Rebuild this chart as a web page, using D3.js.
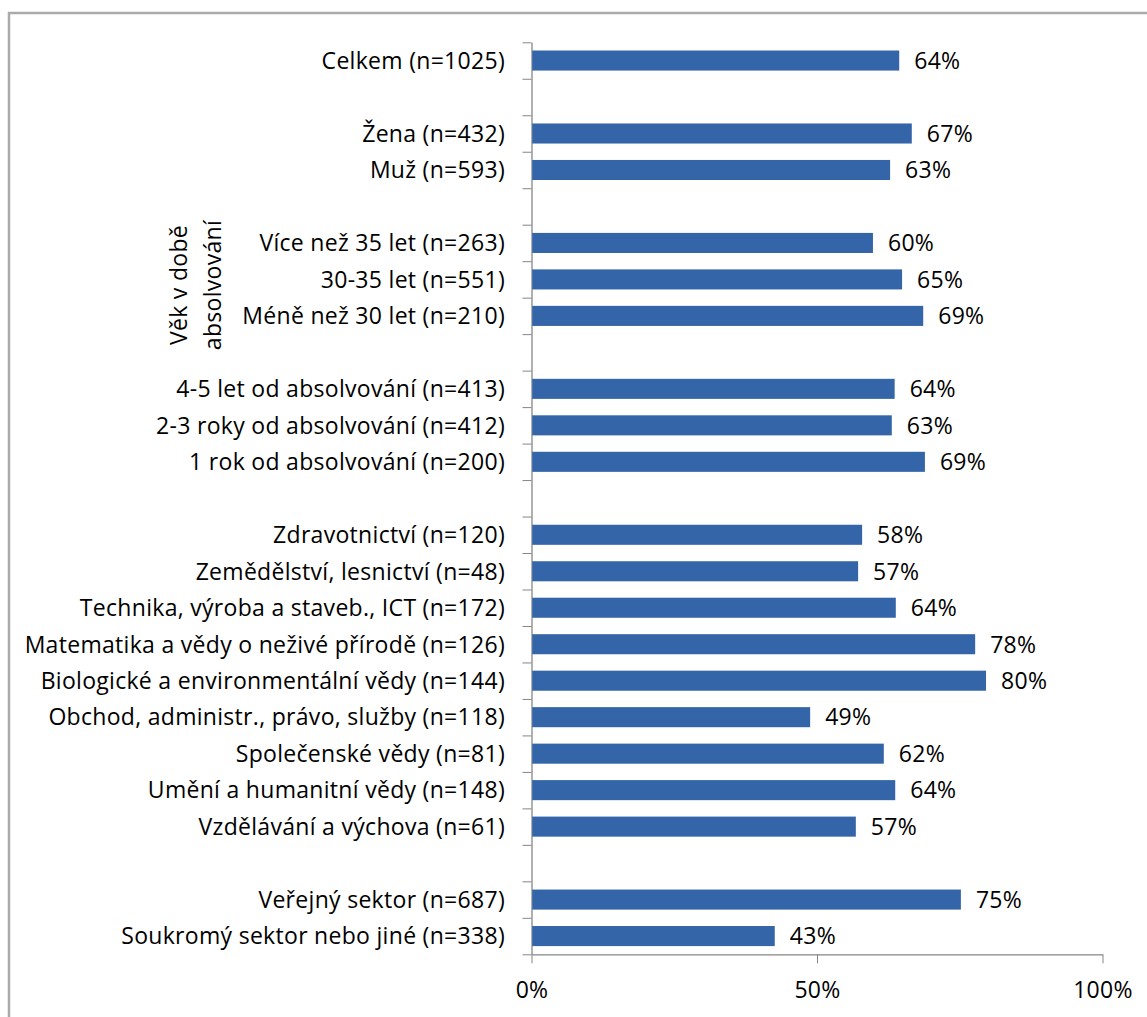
<!DOCTYPE html>
<html>
<head>
<meta charset="utf-8">
<script src="https://cdn.jsdelivr.net/npm/d3@7"></script>
<style>
  body { margin: 0; background: #fff; }
  svg { display: block; }
  text { font-family: "Open Sans", Lato, sans-serif; fill: #000; letter-spacing: 0.3px; }
  .axis path, .axis line { stroke: #868686; }
</style>
</head>
<body>
<div id="chart"></div>
<script>
// rows of the chart, null = empty gap row between groups
const categories = [
    'Celkem (n=1025)',
    null,
    'Žena (n=432)',
    'Muž (n=593)',
    null,
    'Více než 35 let (n=263)',
    '30-35 let (n=551)',
    'Méně než 30 let (n=210)',
    null,
    '4-5 let od absolvování (n=413)',
    '2-3 roky od absolvování (n=412)',
    '1 rok od absolvování (n=200)',
    null,
    'Zdravotnictví (n=120)',
    'Zemědělství, lesnictví (n=48)',
    'Technika, výroba a staveb., ICT (n=172)',
    'Matematika a vědy o neživé přírodě (n=126)',
    'Biologické a environmentální vědy (n=144)',
    'Obchod, administr., právo, služby (n=118)',
    'Společenské vědy (n=81)',
    'Umění a humanitní vědy (n=148)',
    'Vzdělávání a výchova (n=61)',
    null,
    'Veřejný sektor (n=687)',
    'Soukromý sektor nebo jiné (n=338)',
];

const values = [
    0.644, null,
    0.666, 0.628, null,
    0.598, 0.649, 0.686, null,
    0.636, 0.631, 0.689, null,
    0.579, 0.572, 0.638, 0.777, 0.796, 0.488, 0.617, 0.637, 0.568, null,
    0.752, 0.426,
];

const groupLabel = ['Věk v době', 'absolvování'];
const xTicks = [0, 0.5, 1];

const width = 1147;
const height = 1017;
const fontSize = '23px';

function createChart() {
    const svg = d3.select('#chart')
        .append('svg')
        .attr('width', width)
        .attr('height', height);

    // outer chart border (runs off the right and bottom of the picture)
    svg.append('rect')
        .attr('x', 9)
        .attr('y', 13)
        .attr('width', width + 20)
        .attr('height', height + 20)
        .attr('fill', 'none')
        .attr('stroke', '#ababab')
        .attr('stroke-width', 2.5);

    const area = { left: 531.5, right: 1102.5, top: 42.3, bottom: 954.3 };

    const rows = categories.map((c, i) => ({ label: c, value: values[i], i }));

    const xScale = d3.scaleLinear().domain([0, 1]).range([area.left, area.right]);
    const yScale = d3.scaleBand()
        .domain(d3.range(rows.length))
        .range([area.top, area.bottom])
        .paddingInner(0.45)
        .paddingOuter(0.225);
    const yEdges = d3.scaleLinear().domain([0, rows.length]).range([area.top, area.bottom]);

    // y axis: line with ticks on category boundaries
    const yAxis = svg.append('g')
        .attr('class', 'axis')
        .attr('transform', `translate(${area.left}, 0)`)
        .call(d3.axisLeft(yEdges).tickValues(d3.range(rows.length + 1)).tickFormat('').tickSize(9).tickSizeOuter(0));
    yAxis.select('.domain').attr('stroke-width', 1.3);

    const bars = rows.filter((d) => d.value !== null);

    svg.append('g')
        .selectAll('rect')
        .data(bars)
        .join('rect')
        .attr('x', xScale(0) + 0.7)
        .attr('y', (d) => yScale(d.i))
        .attr('width', (d) => xScale(d.value) - xScale(0) - 0.7)
        .attr('height', yScale.bandwidth())
        .attr('fill', '#3465a8');

    // x axis
    const xAxis = svg.append('g')
        .attr('class', 'axis')
        .attr('transform', `translate(0, ${area.bottom})`)
        .call(d3.axisBottom(xScale).tickValues(xTicks).tickFormat(d3.format('.0%')).tickSize(9).tickSizeOuter(0).tickPadding(18));
    xAxis.select('.domain').attr('stroke-width', 1.3);
    xAxis.selectAll('text')
        .style('font-family', '"Open Sans", sans-serif')
        .style('font-size', fontSize)
        .attr('fill', '#000');

    // category labels
    svg.append('g')
        .selectAll('text')
        .data(rows.filter((d) => d.label))
        .join('text')
        .attr('x', 505)
        .attr('y', (d) => yScale(d.i) + yScale.bandwidth() / 2)
        .attr('dy', '0.36em')
        .attr('text-anchor', 'end')
        .style('font-size', fontSize)
        .text((d) => d.label);

    // value labels
    svg.append('g')
        .selectAll('text')
        .data(bars)
        .join('text')
        .attr('x', (d) => xScale(d.value) + 15)
        .attr('y', (d) => yScale(d.i) + yScale.bandwidth() / 2)
        .attr('dy', '0.36em')
        .style('font-size', fontSize)
        .text((d) => d3.format('.0%')(d.value));

    // rotated group label for the age rows
    svg.append('text')
        .attr('transform', 'translate(187, 285) rotate(-90)')
        .attr('text-anchor', 'middle')
        .style('font-size', fontSize)
        .selectAll('tspan')
        .data(groupLabel)
        .join('tspan')
        .attr('x', 0)
        .attr('y', (d, i) => i * 34)
        .text((d) => d);
}

createChart();
</script>
</body>
</html>
